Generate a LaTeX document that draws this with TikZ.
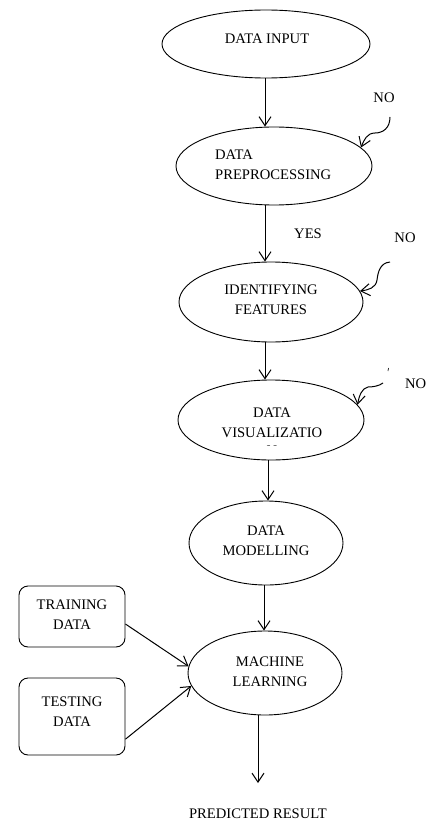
\documentclass[tikz,border=0pt]{standalone}
\usepackage{fontspec}
\setmainfont{Liberation Serif}
\usetikzlibrary{shapes.geometric,arrows.meta,calc}
\begin{document}
\begin{tikzpicture}[x=1pt,y=-1pt,
 every node/.style={font=\fontsize{14.6}{19.5}\selectfont},
 ell/.style={draw,ellipse,line width=0.9pt,inner sep=0pt},
 box/.style={draw,rounded corners=9pt,line width=0.9pt,inner sep=0pt},
 lbl/.style={anchor=base,align=center,inner sep=0pt},
 arr/.style={line width=1pt,-{Straight Barb[length=9pt,width=12pt]}},
]
\useasboundingbox (0,0) rectangle (429,821);

% ellipses
\node[ell,minimum width=208pt,minimum height=68pt] (in) at (266,44) {};
\node[ell,minimum width=196pt,minimum height=78pt] (pre) at (274,166) {};
\node[ell,minimum width=184pt,minimum height=80pt] (feat) at (271,302) {};
\node[ell,minimum width=186pt,minimum height=80pt] (vis) at (271,420) {};
\node[ell,minimum width=154pt,minimum height=84pt] (mod) at (266,543) {};
\node[ell,minimum width=154pt,minimum height=84pt] (ml) at (265,673) {};

% boxes
\node[box,minimum width=106pt,minimum height=61pt] (tr) at (72,616.5) {};
\node[box,minimum width=106pt,minimum height=77pt] (te) at (72,716.5) {};

% texts (base anchor = baseline of the last line)
\node[lbl] (tin) at (267,44) {DATA INPUT};
\node[lbl,align=left,anchor=base west] (tpre) at (215,179) {DATA\\PREPROCESSING};
\node[lbl] (tfeat) at (271,314) {IDENTIFYING\\FEATURES};
\node[lbl] (tvis) at (272,437) {DATA\\VISUALIZATIO};
\begin{scope}
\clip (200,430) rectangle (340,445.5);
\node[lbl] (tvisn) at (272,455) {N};
\end{scope}
\node[lbl] (tmod) at (266,555) {DATA\\MODELLING};
\node[lbl] (tml) at (270,686) {MACHINE\\LEARNING};
\node[lbl] (ttr) at (72,629) {TRAINING\\DATA};
\node[lbl] (tte) at (72,726) {TESTING\\DATA};
\node[lbl] (res) at (258,818) {PREDICTED RESULT};
\node[lbl] (yes) at (308,238) {YES};
\node[lbl] (no1) at (384,103) {NO};
\node[lbl] (no2) at (405,242) {NO};
\node[lbl,anchor=base west] (no3) at (405,388) {NO};

% main arrows
\coordinate (x1) at (265,0);
\draw[arr] (in.south -| x1) -- (pre.north -| x1);
\draw[arr] (pre.south -| x1) -- (feat.north -| x1);
\draw[arr] (feat.south -| x1) -- (vis.north -| x1);
\coordinate (x2) at (268,0);
\draw[arr] (vis.south -| x2) -- (mod.north -| x2);
\coordinate (x3) at (264,0);
\draw[arr] (mod.south -| x3) -- (ml.north -| x3);
\coordinate (pend) at (258,783);
\draw[arr] (ml.south -| pend) -- (pend);

% input arrows
\draw[arr] (tr.-8) -- (ml.175);
\draw[arr] (te.-23) -- (ml.190);

% curly NO arrows
\coordinate (c1) at (390,117);
\draw[arr] (c1) .. controls (390,128) and (383,133) .. (375,133) .. controls (367,133) and (364,140) .. (pre.12);
\coordinate (c2) at (390,262);
\draw[arr] (c2) .. controls (380,263) and (378,272) .. (377,280) .. controls (376,288) and (368,290) .. (feat.7);
\coordinate (c3) at (383,383);
\draw[arr] (c3) .. controls (379,386) and (373,387) .. (368,387) .. controls (362,388) and (359,396) .. (vis.10);
\coordinate (m1) at (388.5,368);
\coordinate (m2) at (388,371);
\draw[line width=0.6pt] (m1) -- (m2);
\end{tikzpicture}
\end{document}
